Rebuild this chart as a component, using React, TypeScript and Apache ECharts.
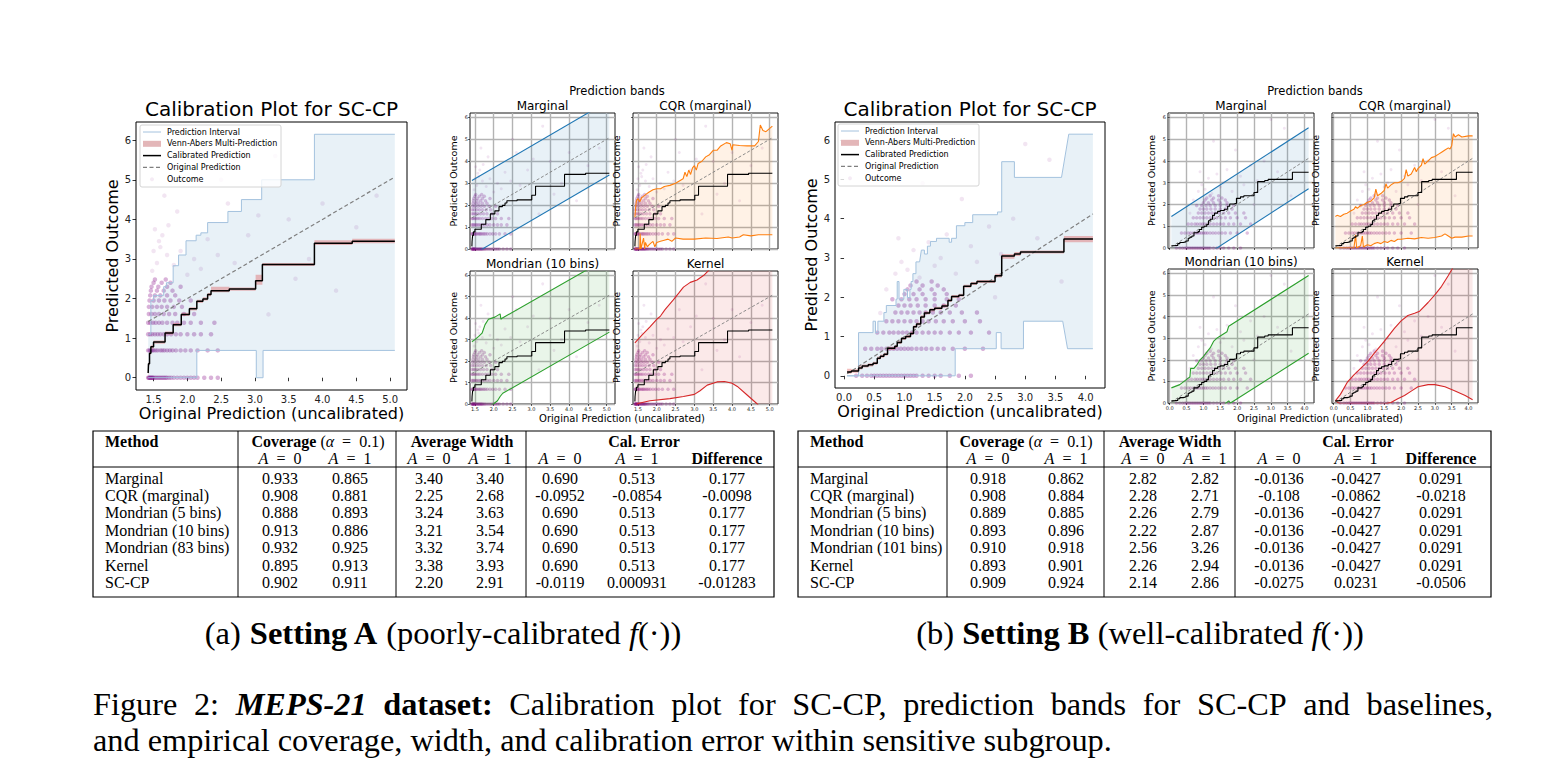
import React, { useEffect, useRef } from 'react';
import * as echarts from 'echarts';

type P = [number, number];

// ---------------- Setting A data ----------------
const bandUpperA: P[] = [[1.42,1.1],[1.46,1.1],[1.46,1.95],[1.5,1.95],[1.5,2.08],[1.65,2.08],[1.65,2.3],[1.69,2.3],[1.69,2.4],[1.79,2.4],[1.79,2.83],[1.87,2.83],[1.87,3.1],[1.98,3.1],[1.98,3.46],[2.13,3.46],[2.13,3.6],[2.2,3.6],[2.2,3.66],[2.3,3.66],[2.3,3.92],[2.6,3.92],[2.6,4.2],[2.8,4.2],[2.8,4.5],[3.1,4.5],[3.1,5.0],[3.88,5.0],[3.88,6.15],[5.07,6.15]];
const bandLowerA: P[] = [[1.42,0],[2.14,0],[2.14,0.69],[3.02,0.69],[3.02,0],[3.12,0],[3.12,0.69],[5.07,0.69]];
const calibA: P[] = [[1.42,0.12],[1.425,0.35],[1.44,0.62],[1.46,0.78],[1.5,0.9],[1.67,1.13],[1.79,1.34],[1.91,1.6],[2.03,1.74],[2.14,1.93],[2.23,1.99],[2.3,2.1],[2.35,2.2],[2.62,2.24],[3.01,2.45],[3.11,2.86],[3.88,3.4],[4.44,3.45],[5.07,3.45]];
const vennA: number[][] = [[1.42,0.08,0.16],[1.425,0.31,0.39],[1.44,0.58,0.66],[1.46,0.74,0.82],[1.5,0.86,0.94],[1.67,1.09,1.17],[1.79,1.3,1.38],[1.91,1.56,1.64],[2.03,1.7,1.78],[2.14,1.89,1.97],[2.23,1.95,2.03],[2.3,2.06,2.14],[2.35,2.16,2.3],[2.62,2.2,2.28],[3.01,2.35,2.6],[3.11,2.82,2.9],[3.88,3.35,3.47],[4.44,3.4,3.51],[5.07,3.4,3.51]];
const origA: P[] = [[1.42,1.42],[5.07,5.07]];
const outcomeRowsA = [
  { y: 0, xs: [1.42,1.43,1.44,1.45,1.46,1.47,1.48,1.49,1.5,1.52,1.54,1.56,1.58,1.6,1.62,1.64,1.66,1.68,1.7,1.73,1.76,1.8,1.85,1.9,1.95,2.0,2.05,2.1,2.15,2.25,2.35,2.45] },
  { y: 0.69, xs: [1.42,1.44,1.46,1.48,1.5,1.53,1.56,1.6,1.63,1.66,1.7,1.74,1.78,1.83,1.9,1.97,2.05,2.15,2.3,2.45] },
  { y: 1.1, xs: [1.42,1.45,1.48,1.52,1.56,1.6,1.65,1.7,1.76,1.83,1.9,2.0,2.1,2.2,2.35] },
  { y: 1.39, xs: [1.42,1.45,1.49,1.53,1.58,1.63,1.7,1.78,1.85,1.95,2.05,2.2,2.4] },
  { y: 1.61, xs: [1.43,1.47,1.52,1.58,1.65,1.73,1.82,1.95,2.1] },
  { y: 1.79, xs: [1.43,1.48,1.55,1.62,1.7,1.8,1.92] },
  { y: 1.95, xs: [1.44,1.5,1.58,1.66,1.75,1.88,2.05] },
  { y: 2.08, xs: [1.45,1.52,1.6,1.7,1.82] },
  { y: 2.2, xs: [1.46,1.55,1.65,1.78] },
  { y: 2.3, xs: [1.47,1.57,1.7,1.9] },
  { y: 2.4, xs: [1.5,1.62,1.75] },
  { y: 2.48, xs: [1.52,1.68] },
];
const outcomeScatterA: P[] = [[1.48,2.7],[1.55,2.9],[1.6,3.3],[1.63,3.6],[1.7,3.1],[1.72,3.85],[1.5,3.2],[1.58,3.45],[1.66,4.6],[1.8,2.85],[1.9,3.2],[2.0,2.6],[2.1,3.0],[2.2,2.75],[2.3,3.5],[2.45,3.1],[2.6,4.4],[2.7,2.9],[2.9,3.6],[3.05,4.1],[3.2,1.6],[3.3,5.6],[3.5,4.0],[3.6,2.5],[3.8,3.0],[4.0,4.4],[4.2,2.2],[4.5,3.8],[4.8,4.6],[2.5,5.0],[1.85,4.2],[1.52,3.75]];

const margUpA: P[] = [[1.42,3.12],[5.07,6.77]];
const margLoA: P[] = [[1.42,-0.28],[5.07,3.37]];
const cqrUpA: P[] = [[1.42,1.45],[1.44,1.9],[1.46,2.2],[1.5,2.3],[1.55,2.15],[1.6,2.35],[1.65,2.4],[1.72,2.5],[1.8,2.6],[1.9,2.7],[2.0,2.75],[2.1,2.75],[2.2,2.85],[2.35,2.9],[2.5,3.0],[2.6,3.1],[2.7,3.2],[2.75,3.5],[2.8,3.3],[2.85,3.6],[2.9,3.4],[2.95,3.7],[3.0,3.8],[3.05,3.6],[3.1,3.9],[3.2,4.0],[3.3,4.2],[3.4,4.3],[3.5,4.5],[3.6,4.5],[3.7,4.7],[3.85,4.85],[3.95,4.8],[4.0,4.5],[4.02,4.75],[4.2,4.72],[4.4,4.7],[4.6,4.7],[4.7,4.9],[4.75,5.65],[4.82,5.4],[4.9,5.35],[5.0,5.5],[5.07,5.6]];
const cqrLoA: P[] = [[1.42,0],[1.55,0],[1.56,0.7],[1.58,0],[1.65,0.5],[1.68,0],[1.7,0.3],[1.75,0.1],[1.8,0.2],[1.9,0.35],[1.95,0.1],[2.0,0.3],[2.1,0.35],[2.2,0.4],[2.3,0.45],[2.4,0.35],[2.5,0.5],[2.7,0.45],[3.0,0.45],[3.3,0.5],[3.6,0.48],[3.9,0.55],[4.0,0.5],[4.2,0.55],[4.3,0.65],[4.5,0.6],[4.7,0.65],[5.07,0.65]];
const mondUpA: P[] = [[1.42,2.9],[1.5,3.0],[1.6,3.15],[1.69,3.3],[1.77,3.7],[1.86,3.95],[2.03,4.05],[2.17,4.2],[2.19,3.95],[2.22,4.0],[5.07,6.85]];
const mondLoA: P[] = [[1.42,-0.5],[1.99,0],[2.1,0.15],[2.17,0.35],[2.24,0.5],[5.07,3.35]];
const kernUpA: P[] = [[1.42,2.85],[1.6,3.2],[1.82,3.6],[2.0,3.95],[2.1,4.1],[2.22,4.4],[2.44,4.85],[2.6,5.2],[2.71,5.45],[2.89,5.67],[3.07,5.78],[3.25,6.0],[3.42,6.3],[3.7,6.9],[4.2,7.8],[5.07,9.0]];
const kernLoA: P[] = [[1.42,-0.1],[1.5,0.02],[1.82,0.15],[2.35,0.25],[2.71,0.35],[3.0,0.45],[3.15,0.62],[3.34,0.88],[3.6,1.03],[3.8,1.05],[4.0,0.97],[4.14,0.82],[4.4,0.42],[4.67,0],[4.9,-0.5],[5.07,-0.9]];

// ---------------- Setting B data ----------------
const bandUpperB: P[] = [[0.05,0],[0.24,0],[0.24,1.1],[0.48,1.1],[0.48,1.39],[0.52,1.39],[0.52,1.1],[0.56,1.1],[0.56,1.39],[0.66,1.39],[0.66,1.61],[0.7,1.61],[0.7,1.79],[0.86,1.79],[0.86,1.95],[0.88,1.95],[0.88,2.4],[0.91,2.4],[0.91,1.95],[0.99,1.95],[0.99,2.2],[1.05,2.2],[1.05,1.99],[1.09,1.99],[1.09,2.2],[1.11,2.2],[1.11,2.4],[1.14,2.4],[1.14,2.6],[1.19,2.6],[1.19,2.9],[1.25,2.9],[1.28,3.2],[1.33,3.2],[1.33,3.1],[1.38,3.1],[1.38,3.3],[1.43,3.3],[1.43,3.42],[1.53,3.42],[1.53,3.5],[1.74,3.5],[1.74,3.4],[1.78,3.4],[1.78,3.5],[1.86,3.5],[1.86,3.82],[2.0,3.82],[2.0,3.9],[2.13,3.9],[2.13,4.1],[2.54,4.1],[2.54,4.17],[2.61,4.17],[2.61,5.45],[2.82,5.45],[2.82,5.05],[3.6,5.05],[3.72,6.15],[4.12,6.15]];
const bandLowerB: P[] = [[0.05,0],[1.84,0],[1.84,0.69],[2.52,0.69],[2.52,1.1],[2.6,1.1],[2.6,0.69],[2.97,0.69],[2.97,1.39],[3.62,1.39],[3.7,0.69],[4.12,0.69]];
const calibB: P[] = [[0.05,0.1],[0.12,0.12],[0.24,0.2],[0.3,0.25],[0.4,0.28],[0.48,0.32],[0.55,0.45],[0.6,0.5],[0.66,0.55],[0.72,0.7],[0.84,0.75],[0.88,0.85],[0.95,0.95],[1.02,1.0],[1.1,1.08],[1.15,1.25],[1.2,1.32],[1.27,1.5],[1.33,1.6],[1.42,1.68],[1.5,1.72],[1.62,1.78],[1.72,1.92],[1.78,2.02],[1.9,2.05],[1.98,2.28],[2.1,2.35],[2.2,2.4],[2.5,2.55],[2.61,3.05],[2.82,3.1],[2.92,3.15],[3.64,3.48],[4.12,3.48]];
const vennB: number[][] = [[0.05,0.05,0.18],[0.12,0.08,0.17],[0.24,0.16,0.26],[0.3,0.21,0.29],[0.4,0.24,0.32],[0.48,0.28,0.36],[0.55,0.41,0.49],[0.6,0.46,0.54],[0.66,0.51,0.59],[0.72,0.66,0.74],[0.84,0.71,0.79],[0.88,0.81,0.89],[0.95,0.91,0.99],[1.02,0.96,1.04],[1.1,1.04,1.12],[1.15,1.21,1.29],[1.2,1.28,1.36],[1.27,1.46,1.54],[1.33,1.56,1.64],[1.42,1.64,1.72],[1.5,1.68,1.76],[1.62,1.74,1.82],[1.72,1.88,1.96],[1.78,1.98,2.06],[1.9,2.01,2.09],[1.98,2.24,2.32],[2.1,2.31,2.39],[2.2,2.36,2.44],[2.5,2.5,2.6],[2.61,2.98,3.1],[2.82,3.05,3.15],[2.92,3.11,3.19],[3.64,3.4,3.56],[4.12,3.4,3.56]];
const origB: P[] = [[0.05,0.05],[4.12,4.12]];
const outcomeRowsB = [
  { y: 0, xs: [0.2,0.3,0.38,0.45,0.5,0.55,0.6,0.65,0.7,0.75,0.8,0.85,0.9,0.95,1.0,1.05,1.1,1.15,1.2,1.3,1.4,1.5,1.6,1.75,1.9,2.1] },
  { y: 0.69, xs: [0.35,0.45,0.55,0.62,0.7,0.76,0.82,0.88,0.94,1.0,1.06,1.12,1.2,1.28,1.36,1.45,1.55,1.65,1.8,2.0,2.3] },
  { y: 1.1, xs: [0.55,0.65,0.75,0.82,0.9,0.97,1.04,1.12,1.2,1.3,1.4,1.5,1.6,1.75,1.9,2.1,2.4] },
  { y: 1.39, xs: [0.7,0.8,0.9,1.0,1.1,1.2,1.3,1.4,1.52,1.65,1.8,2.0,2.25] },
  { y: 1.61, xs: [0.85,0.95,1.05,1.15,1.25,1.35,1.47,1.6,1.75,1.95,2.2] },
  { y: 1.79, xs: [0.9,1.0,1.1,1.22,1.35,1.5,1.65,1.85] },
  { y: 1.95, xs: [0.8,0.95,1.08,1.2,1.35,1.5,1.7,1.9] },
  { y: 2.08, xs: [1.0,1.15,1.3,1.5,1.7] },
  { y: 2.2, xs: [1.05,1.25,1.45,1.65] },
  { y: 2.3, xs: [1.1,1.3,1.55] },
  { y: 2.4, xs: [1.2,1.45] },
];
const outcomeScatterB: P[] = [[0.6,1.6],[0.7,2.2],[0.85,2.6],[0.95,2.9],[1.05,2.7],[1.15,3.2],[1.25,2.5],[1.4,3.4],[1.5,2.8],[1.6,3.0],[1.7,3.6],[1.85,2.6],[1.95,4.5],[2.1,3.3],[2.2,2.9],[2.4,3.8],[2.6,3.1],[2.8,4.0],[3.0,5.9],[3.2,3.5],[3.4,5.5],[3.6,2.4],[2.5,2.0],[1.3,4.9],[0.9,3.5]];

const margUpB: P[] = [[0.05,1.45],[4.12,5.52]];
const margLoB: P[] = [[0.05,-1.35],[4.12,2.72]];
const cqrUpB: P[] = [[0.05,1.45],[0.1,1.5],[0.2,1.45],[0.3,1.55],[0.4,1.6],[0.5,1.7],[0.6,1.78],[0.65,1.9],[0.7,1.82],[0.8,1.95],[0.9,2.0],[1.0,2.1],[1.1,2.15],[1.2,2.3],[1.25,2.7],[1.3,2.4],[1.4,2.5],[1.5,2.65],[1.55,2.95],[1.6,2.75],[1.7,2.9],[1.8,3.0],[1.9,3.0],[2.0,3.05],[2.1,3.2],[2.15,3.6],[2.2,3.3],[2.3,3.4],[2.4,3.7],[2.45,3.5],[2.5,3.65],[2.6,3.8],[2.65,4.1],[2.7,3.85],[2.8,4.0],[2.9,4.15],[3.0,4.2],[3.1,4.3],[3.2,4.4],[3.3,4.5],[3.4,4.6],[3.45,4.55],[3.5,4.7],[3.55,5.25],[3.6,5.1],[3.7,5.2],[3.8,5.1],[4.0,5.15],[4.12,5.15]];
const cqrLoB: P[] = [[0.05,0],[0.6,0],[0.65,0.6],[0.68,0],[0.8,0.1],[0.85,0.55],[0.88,0.05],[1.0,0.15],[1.1,0.1],[1.2,0.2],[1.3,0.25],[1.4,0.2],[1.5,0.3],[1.6,0.25],[1.7,0.35],[1.8,0.3],[1.9,0.4],[2.0,0.4],[2.2,0.45],[2.4,0.42],[2.6,0.48],[2.8,0.45],[3.0,0.48],[3.2,0.55],[3.3,0.65],[3.4,0.55],[3.5,0.45],[3.6,0.5],[3.8,0.5],[4.0,0.55],[4.12,0.55]];
const mondUpB: P[] = [[0.05,0.7],[0.3,0.85],[0.55,1.15],[0.6,1.2],[0.62,1.6],[0.72,1.6],[0.8,1.75],[0.9,2.0],[1.0,2.15],[1.1,2.35],[1.2,2.55],[1.3,2.85],[1.4,3.0],[1.5,3.1],[1.7,3.3],[1.75,3.55],[4.12,5.9]];
const mondLoB: P[] = [[0.05,-1.5],[1.6,-0.1],[1.75,0.1],[1.8,0],[1.85,0.05],[4.12,2.3]];
const kernUpB: P[] = [[0.05,0.1],[0.2,0.4],[0.4,0.95],[0.6,1.3],[0.8,1.6],[1.0,1.9],[1.2,2.3],[1.5,2.85],[1.8,3.45],[2.0,3.8],[2.2,4.05],[2.4,4.15],[2.55,4.25],[2.8,4.65],[3.0,5.0],[3.2,5.4],[3.4,5.9],[3.55,6.3],[3.8,7.0],[4.12,7.8]];
const kernLoB: P[] = [[0.05,0.1],[0.2,-0.05],[1.5,-0.05],[1.7,0.02],[1.9,0.2],[2.1,0.35],[2.3,0.55],[2.5,0.75],[2.8,0.85],[3.0,0.85],[3.3,0.75],[3.6,0.55],[3.9,0.35],[4.12,0.15]];

// ---------------- ticks ----------------
const xTicksA = [1.5, 2.0, 2.5, 3.0, 3.5, 4.0, 4.5, 5.0];
const xTicksB = [0.0, 0.5, 1.0, 1.5, 2.0, 2.5, 3.0, 3.5, 4.0];
const yTicks = [0, 1, 2, 3, 4, 5, 6];

// ---------------- tables ----------------
const methodsA = ['Marginal', 'CQR (marginal)', 'Mondrian (5 bins)', 'Mondrian (10 bins)', 'Mondrian (83 bins)', 'Kernel', 'SC-CP'];
const covA0 = ['0.933', '0.908', '0.888', '0.913', '0.932', '0.895', '0.902'];
const covA1 = ['0.865', '0.881', '0.893', '0.886', '0.925', '0.913', '0.911'];
const widA0 = ['3.40', '2.25', '3.24', '3.21', '3.32', '3.38', '2.20'];
const widA1 = ['3.40', '2.68', '3.63', '3.54', '3.74', '3.93', '2.91'];
const calA0 = ['0.690', '-0.0952', '0.690', '0.690', '0.690', '0.690', '-0.0119'];
const calA1 = ['0.513', '-0.0854', '0.513', '0.513', '0.513', '0.513', '0.000931'];
const diffA = ['0.177', '-0.0098', '0.177', '0.177', '0.177', '0.177', '-0.01283'];

const methodsB = ['Marginal', 'CQR (marginal)', 'Mondrian (5 bins)', 'Mondrian (10 bins)', 'Mondrian (101 bins)', 'Kernel', 'SC-CP'];
const covB0 = ['0.918', '0.908', '0.889', '0.893', '0.910', '0.893', '0.909'];
const covB1 = ['0.862', '0.884', '0.885', '0.896', '0.918', '0.901', '0.924'];
const widB0 = ['2.82', '2.28', '2.26', '2.22', '2.56', '2.26', '2.14'];
const widB1 = ['2.82', '2.71', '2.79', '2.87', '3.26', '2.94', '2.86'];
const calB0 = ['-0.0136', '-0.108', '-0.0136', '-0.0136', '-0.0136', '-0.0136', '-0.0275'];
const calB1 = ['-0.0427', '-0.0862', '-0.0427', '-0.0427', '-0.0427', '-0.0427', '0.0231'];
const diffB = ['0.0291', '-0.0218', '0.0291', '0.0291', '0.0291', '0.0291', '-0.0506'];

// ---------------- caption words ----------------
const captionLine1: [string, string][] = [['Figure', 'n'], ['2:', 'n'], ['MEPS-21', 'bi'], ['dataset:', 'b'], ['Calibration', 'n'], ['plot', 'n'], ['for', 'n'], ['SC-CP,', 'n'], ['prediction', 'n'], ['bands', 'n'], ['for', 'n'], ['SC-CP', 'n'], ['and', 'n'], ['baselines,', 'n']];
const captionLine2 = 'and empirical coverage, width, and calibration error within sensitive subgroup.';

// ---------------- styling ----------------
const SANS = 'DejaVu Sans';
const SERIF = 'Liberation Serif';
const BLUE = '#1f77b4', ORANGE = '#ff7f0e', GREEN = '#2ca02c', RED = '#d62728', PURPLE = '#800080';
const CAP = 32.3;

function flattenRows(rows: { y: number; xs: number[] }[]): P[] {
  const out: P[] = [];
  rows.forEach((r) => r.xs.forEach((x) => out.push([x, r.y])));
  return out;
}

function stepBand(v: number[][]): { up: P[]; lo: P[] } {
  const up: P[] = [];
  const lo: P[] = [];
  for (let i = 0; i < v.length - 1; i++) {
    up.push([v[i][0], v[i][2]], [v[i + 1][0], v[i][2]]);
    lo.push([v[i][0], v[i][1]], [v[i + 1][0], v[i][1]]);
  }
  return { up, lo };
}

let measureCtx: CanvasRenderingContext2D | null = null;
function measure(text: string, font: string): number {
  if (!measureCtx) measureCtx = document.createElement('canvas').getContext('2d');
  measureCtx!.font = font;
  return measureCtx!.measureText(text).width;
}

function buildOption() {
  const grid: any[] = [];
  const xAxis: any[] = [];
  const yAxis: any[] = [];
  const series: any[] = [];
  const graphic: any[] = [];

  function addGrid(rect: number[], xr: number[], yr: number[], xt: number[], big: boolean, showX: boolean, showY: boolean, yName: string, xName: string) {
    const i = grid.length;
    grid.push({ left: rect[0], top: rect[1], width: rect[2], height: rect[3], show: true, borderColor: '#000', borderWidth: big ? 1 : 0.9, backgroundColor: 'transparent' });
    const tickLen = big ? 3.5 : 2;
    xAxis.push({
      type: 'value', gridIndex: i, min: xr[0], max: xr[1],
      name: xName, nameLocation: 'middle', nameGap: 15,
      nameTextStyle: { fontFamily: SANS, fontSize: 16, color: '#000' },
      axisLine: { show: false },
      axisTick: { show: true, inside: false, length: tickLen, customValues: xt, lineStyle: { color: '#000', width: big ? 0.8 : 0.6 } },
      axisLabel: { show: showX, customValues: xt, fontFamily: SANS, fontSize: big ? 10 : 5, color: '#222', margin: big ? 4 : 2, formatter: (v: number) => v.toFixed(1) },
      splitLine: { show: !big, lineStyle: { color: '#b3b3b3', width: 1.4 } },
    });
    yAxis.push({
      type: 'value', gridIndex: i, min: yr[0], max: yr[1],
      name: yName, nameLocation: 'middle', nameGap: big ? 13 : 12,
      nameTextStyle: { fontFamily: SANS, fontSize: big ? 16 : 9.5, color: '#000' },
      axisLine: { show: false },
      axisTick: { show: true, inside: false, length: tickLen, customValues: yTicks, lineStyle: { color: '#000', width: big ? 0.8 : 0.6 } },
      axisLabel: { show: showY, customValues: yTicks, fontFamily: SANS, fontSize: big ? 10 : 5, color: '#222', margin: big ? 5 : 2, formatter: (v: number) => String(Math.round(v)) },
      splitLine: { show: !big, lineStyle: { color: '#b3b3b3', width: 1.4 } },
    });
    return i;
  }

  function polygonSeries(i: number, up: P[], lo: P[], color: string, opacity: number, z: number) {
    return {
      type: 'custom', xAxisIndex: i, yAxisIndex: i, clip: true, silent: true, z,
      data: [[up[0][0], up[0][1]]],
      renderItem: (_p: any, api: any) => {
        const pts = up.map((p) => api.coord(p)).concat(lo.slice().reverse().map((p) => api.coord(p)));
        return { type: 'polygon', shape: { points: pts }, style: { fill: color, opacity } };
      },
    };
  }

  function lineSeries(i: number, data: P[], color: string, width: number, z: number, opts: any = {}) {
    return {
      type: 'line', xAxisIndex: i, yAxisIndex: i, data, showSymbol: false, symbol: 'none', silent: true, z, clip: true,
      lineStyle: { color, width, ...(opts.lineStyle || {}) }, step: opts.step,
    };
  }

  function scatterSeries(i: number, data: P[], size: number, opacity: number) {
    return { type: 'scatter', xAxisIndex: i, yAxisIndex: i, data, symbolSize: size, silent: true, z: 1, itemStyle: { color: PURPLE, opacity } };
  }

  function bigPlot(rect: number[], xr: number[], xt: number[], up: P[], lo: P[], calib: P[], venn: number[][], orig: P[], rows: P[], loose: P[], legendPos: number[]) {
    const i = addGrid(rect, xr, [-0.31, 6.46], xt, true, true, true, 'Predicted Outcome', 'Original Prediction (uncalibrated)');
    series.push(scatterSeries(i, rows, 4.5, 0.3));
    series.push(scatterSeries(i, loose, 4.5, 0.1));
    series.push(polygonSeries(i, up, lo, BLUE, 0.1, 2));
    series.push(lineSeries(i, up, '#a4c2de', 1, 3));
    series.push(lineSeries(i, lo, '#a4c2de', 1, 3));
    const vb = stepBand(venn);
    series.push(polygonSeries(i, vb.up, vb.lo, RED, 0.3, 4));
    series.push(lineSeries(i, orig, '#7f7f7f', 1.2, 5, { lineStyle: { type: [4, 2.5] } }));
    series.push(lineSeries(i, calib, '#000', 1.5, 6, { step: 'end' }));
    graphic.push({ type: 'text', x: rect[0] + rect[2] / 2, y: 109, style: { text: 'Calibration Plot for SC-CP', fontFamily: SANS, fontSize: 20, fill: '#000', align: 'center', verticalAlign: 'middle' } });
    const [lx, ly] = legendPos;
    graphic.push({ type: 'rect', shape: { x: lx, y: ly, width: 141, height: 62, r: 2 }, style: { fill: 'rgba(255,255,255,0.8)', stroke: '#d4d4d4', lineWidth: 1 }, z: 50 });
    const labels = ['Prediction Interval', 'Venn-Abers Multi-Prediction', 'Calibrated Prediction', 'Original Prediction', 'Outcome'];
    labels.forEach((t, k) => {
      const yy = ly + 7 + k * 11.8;
      if (k === 0) graphic.push({ type: 'line', shape: { x1: lx + 3, y1: yy, x2: lx + 21, y2: yy }, style: { stroke: '#a4c2de', lineWidth: 1 }, z: 51 });
      if (k === 1) graphic.push({ type: 'rect', shape: { x: lx + 3, y: yy - 3, width: 18, height: 6 }, style: { fill: '#e3b6b8' }, z: 51 });
      if (k === 2) graphic.push({ type: 'line', shape: { x1: lx + 3, y1: yy, x2: lx + 21, y2: yy }, style: { stroke: '#000', lineWidth: 1.5 }, z: 51 });
      if (k === 3) graphic.push({ type: 'line', shape: { x1: lx + 3, y1: yy, x2: lx + 21, y2: yy }, style: { stroke: '#7f7f7f', lineWidth: 1.2, lineDash: [4, 2.5] }, z: 51 });
      if (k === 4) graphic.push({ type: 'circle', shape: { cx: lx + 12, cy: yy, r: 2 }, style: { fill: PURPLE, opacity: 0.08 }, z: 51 });
      graphic.push({ type: 'text', x: lx + 27, y: yy, style: { text: t, fontFamily: SANS, fontSize: 8, fill: '#000', verticalAlign: 'middle' }, z: 51 });
    });
  }

  function smallPanels(rects: number[][], xr: number[], xt: number[], calib: P[], orig: P[], rows: P[], loose: P[], bands: { up: P[]; lo: P[]; color: string; title: string }[], supTitleX: number, supLabelX: number) {
    bands.forEach((b, k) => {
      const r = rects[k];
      const i = addGrid(r, xr, [0, 6.2], xt, false, k >= 2, k % 2 === 0, 'Predicted Outcome', '');
      series.push(scatterSeries(i, rows, 3.5, 0.25));
      series.push(scatterSeries(i, loose, 3, 0.1));
      series.push(polygonSeries(i, b.up, b.lo, b.color, 0.1, 2));
      series.push(lineSeries(i, b.up, b.color, 1.1, 3));
      series.push(lineSeries(i, b.lo, b.color, 1.1, 3));
      series.push(lineSeries(i, orig, '#7f7f7f', 0.9, 4, { lineStyle: { type: [3, 2] } }));
      series.push(lineSeries(i, calib, '#000', 1.1, 5, { step: 'end' }));
      graphic.push({ type: 'text', x: r[0] + r[2] / 2, y: r[1] - 7, style: { text: b.title, fontFamily: SANS, fontSize: 12, fill: '#000', align: 'center', verticalAlign: 'middle' } });
    });
    graphic.push({ type: 'text', x: supTitleX, y: 91, style: { text: 'Prediction bands', fontFamily: SANS, fontSize: 11.5, fill: '#000', align: 'center', verticalAlign: 'middle' } });
    graphic.push({ type: 'text', x: supLabelX, y: 418, style: { text: 'Original Prediction (uncalibrated)', fontFamily: SANS, fontSize: 10, fill: '#000', align: 'center', verticalAlign: 'middle' } });
  }

  const rowsA = flattenRows(outcomeRowsA);
  const rowsB = flattenRows(outcomeRowsB);

  bigPlot([136, 122, 271, 268], [1.24, 5.25], xTicksA, bandUpperA, bandLowerA, calibA, vennA, origA, rowsA, outcomeScatterA, [140, 125]);
  smallPanels([[470, 113, 145, 136], [633, 113, 145, 136], [470, 271, 145, 133], [633, 271, 145, 133]], [1.37, 5.22], xTicksA, calibA, origA, rowsA, outcomeScatterA, [
    { up: margUpA, lo: margLoA, color: BLUE, title: 'Marginal' },
    { up: cqrUpA, lo: cqrLoA, color: ORANGE, title: 'CQR (marginal)' },
    { up: mondUpA, lo: mondLoA, color: GREEN, title: 'Mondrian (10 bins)' },
    { up: kernUpA, lo: kernLoA, color: RED, title: 'Kernel' },
  ], 617, 622);

  bigPlot([835, 122, 270, 266], [-0.15, 4.32], xTicksB, bandUpperB, bandLowerB, calibB, vennB, origB, rowsB, outcomeScatterB, [838, 124]);
  smallPanels([[1168, 113, 146, 135], [1332, 113, 146, 135], [1168, 269, 146, 134], [1332, 269, 146, 134]], [-0.05, 4.28], xTicksB, calibB, origB, rowsB, outcomeScatterB, [
    { up: margUpB, lo: margLoB, color: BLUE, title: 'Marginal' },
    { up: cqrUpB, lo: cqrLoB, color: ORANGE, title: 'CQR (marginal)' },
    { up: mondUpB, lo: mondLoB, color: GREEN, title: 'Mondrian (10 bins)' },
    { up: kernUpB, lo: kernLoB, color: RED, title: 'Kernel' },
  ], 1315, 1320);

  // ---------------- tables ----------------
  const rich = {
    n: { fontFamily: SERIF, fontSize: 16, fill: '#000' },
    b: { fontFamily: SERIF, fontSize: 16, fontWeight: 'bold', fill: '#000' },
    i: { fontFamily: SERIF, fontSize: 16, fontStyle: 'italic', fill: '#000' },
  };
  function txt(x: number, y: number, text: string, align = 'center') {
    graphic.push({ type: 'text', x, y, style: { text, rich, fontFamily: SERIF, fontSize: 16, fill: '#000', align, verticalAlign: 'middle' } });
  }
  function ln(x1: number, y1: number, x2: number, y2: number, w = 1) {
    graphic.push({ type: 'line', shape: { x1, y1, x2, y2 }, style: { stroke: '#000', lineWidth: w } });
  }
  function table(x0: number, x1: number, vl: number[], cols: number[], heads: number[], methods: string[], colsData: string[][]) {
    const y0 = 431, y1 = 597;
    graphic.push({ type: 'rect', shape: { x: x0, y: y0, width: x1 - x0, height: y1 - y0 }, style: { fill: 'none', stroke: '#000', lineWidth: 1.2 } });
    vl.forEach((x) => ln(x, y0, x, y1));
    ln(x0, 467, x1, 467);
    txt(x0 + 12, 441, '{b|Method}', 'left');
    txt(heads[0], 441, '{b|Coverage }{n|(}{i|α}{n|  =  0.1)}');
    txt(heads[1], 441, '{b|Average Width}');
    txt(heads[2], 441, '{b|Cal. Error}');
    const sub = ['{i|A}{n|  =  0}', '{i|A}{n|  =  1}', '{i|A}{n|  =  0}', '{i|A}{n|  =  1}', '{i|A}{n|  =  0}', '{i|A}{n|  =  1}', '{b|Difference}'];
    sub.forEach((s, k) => txt(cols[k], 458, s));
    methods.forEach((m, r) => {
      const yy = 478 + r * 17.4;
      txt(x0 + 12, yy, '{n|' + m + '}', 'left');
      colsData.forEach((c, k) => txt(cols[k], yy, '{n|' + c[r] + '}'));
    });
  }
  table(93, 774, [238, 396, 526], [280, 350, 429, 490, 560, 637, 727], [318, 462, 644], methodsA, [covA0, covA1, widA0, widA1, calA0, calA1, diffA]);
  table(798, 1491, [947, 1104, 1235], [988, 1066, 1143, 1205, 1279, 1356, 1441], [1026, 1170, 1358], methodsB, [covB0, covB1, widB0, widB1, calB0, calB1, diffB]);

  // ---------------- captions ----------------
  const SUB = 32.5;
  const subRich = {
    n: { fontFamily: SERIF, fontSize: SUB, fill: '#000' },
    b: { fontFamily: SERIF, fontSize: SUB, fontWeight: 'bold', fill: '#000' },
    i: { fontFamily: SERIF, fontSize: SUB, fontStyle: 'italic', fill: '#000' },
  };
  graphic.push({ type: 'text', x: 443, y: 633, style: { text: '{n|(a) }{b|Setting A}{n| (poorly-calibrated }{i|f}{n|(·))}', rich: subRich, align: 'center', verticalAlign: 'middle' } });
  graphic.push({ type: 'text', x: 1140, y: 633, style: { text: '{n|(b) }{b|Setting B}{n| (well-calibrated }{i|f}{n|(·))}', rich: subRich, align: 'center', verticalAlign: 'middle' } });

  const fontOf: Record<string, { w: string; s: string }> = { n: { w: 'normal', s: 'normal' }, b: { w: 'bold', s: 'normal' }, bi: { w: 'bold', s: 'italic' } };
  const widths = captionLine1.map(([w, st]) => measure(w, `${fontOf[st].s} ${fontOf[st].w} ${CAP}px "${SERIF}"`));
  const total = widths.reduce((a, b) => a + b, 0);
  const left = 93, right = 1493;
  const gap = (right - left - total) / (captionLine1.length - 1);
  let cx = left;
  captionLine1.forEach(([w, st], k) => {
    graphic.push({ type: 'text', x: cx, y: 704, style: { text: w, fontFamily: SERIF, fontSize: CAP, fontWeight: fontOf[st].w, fontStyle: fontOf[st].s, fill: '#000', align: 'left', verticalAlign: 'middle' } });
    cx += widths[k] + gap;
  });
  graphic.push({ type: 'text', x: 93, y: 740, style: { text: captionLine2, fontFamily: SERIF, fontSize: CAP, fill: '#000', align: 'left', verticalAlign: 'middle' } });

  return { animation: false, backgroundColor: '#fff', grid, xAxis, yAxis, series, graphic };
}

export default function App() {
  const ref = useRef<HTMLDivElement>(null);
  useEffect(() => {
    const chart = echarts.init(ref.current!, null, { renderer: 'svg' });
    chart.setOption(buildOption() as any);
    return () => chart.dispose();
  }, []);
  return <div ref={ref} style={{ position: 'absolute', left: 0, top: 0, width: 1566, height: 778, background: '#fff' }} />;
}
